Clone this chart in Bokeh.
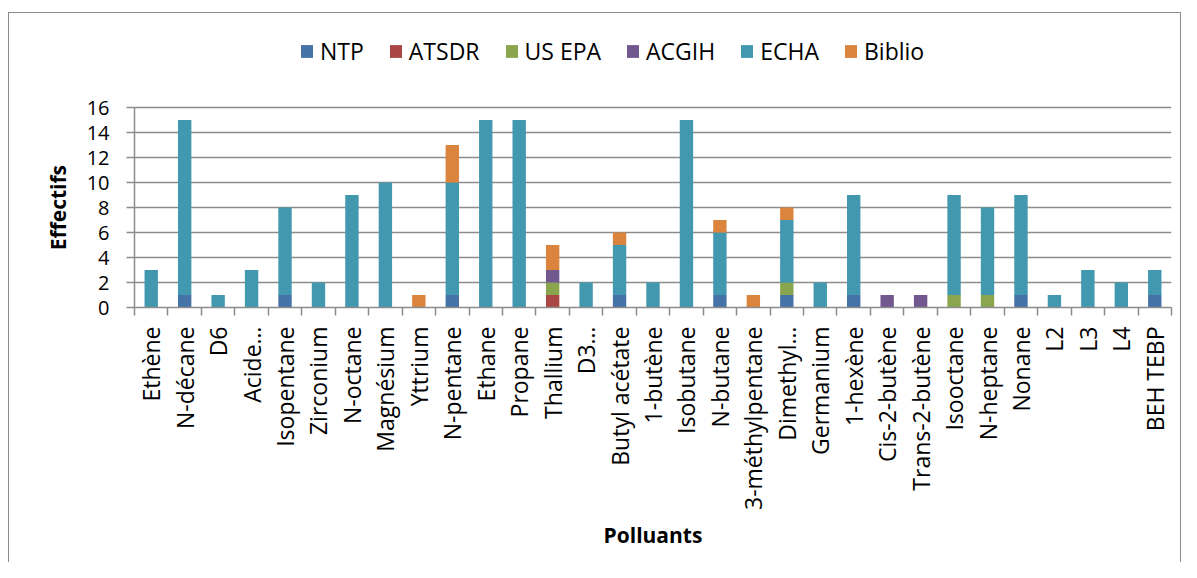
import math
from bokeh.plotting import figure
from bokeh.models import ColumnDataSource, Range1d, FixedTicker, Legend, LegendItem
from bokeh.embed import file_html
from bokeh.resources import INLINE

categories = ["Ethène", "N-décane", "D6", "Acide…", "Isopentane", "Zirconium", "N-octane",
              "Magnésium", "Yttrium", "N-pentane", "Ethane", "Propane", "Thallium", "D3…",
              "Butyl acétate", "1-butène", "Isobutane", "N-butane", "3-méthylpentane",
              "Dimethyl…", "Germanium", "1-hexène", "Cis-2-butène", "Trans-2-butène",
              "Isooctane", "N-heptane", "Nonane", "L2", "L3", "L4", "BEH TEBP"]
NTP    = [0, 1, 0, 0, 1, 0, 0, 0, 0, 1, 0, 0, 0, 0, 1, 0, 0, 1, 0, 1, 0, 1, 0, 0, 0, 0, 1, 0, 0, 0, 1]
ATSDR  = [0, 0, 0, 0, 0, 0, 0, 0, 0, 0, 0, 0, 1, 0, 0, 0, 0, 0, 0, 0, 0, 0, 0, 0, 0, 0, 0, 0, 0, 0, 0]
US_EPA = [0, 0, 0, 0, 0, 0, 0, 0, 0, 0, 0, 0, 1, 0, 0, 0, 0, 0, 0, 1, 0, 0, 0, 0, 1, 1, 0, 0, 0, 0, 0]
ACGIH  = [0, 0, 0, 0, 0, 0, 0, 0, 0, 0, 0, 0, 1, 0, 0, 0, 0, 0, 0, 0, 0, 0, 1, 1, 0, 0, 0, 0, 0, 0, 0]
ECHA   = [3, 14, 1, 3, 7, 2, 9, 10, 0, 9, 15, 15, 0, 2, 4, 2, 15, 5, 0, 5, 2, 8, 0, 0, 8, 7, 8, 1, 3, 2, 2]
Biblio = [0, 0, 0, 0, 0, 0, 0, 0, 1, 3, 0, 0, 2, 0, 1, 0, 0, 1, 1, 1, 0, 0, 0, 0, 0, 0, 0, 0, 0, 0, 0]

series_names = ["NTP", "ATSDR", "US EPA", "ACGIH", "ECHA", "Biblio"]
series_keys = ["NTP", "ATSDR", "US_EPA", "ACGIH", "ECHA", "Biblio"]
colors = ["#4572A7", "#AA4643", "#89A54E", "#71588F", "#4198AF", "#DB843D"]
y_ticks = [0, 2, 4, 6, 8, 10, 12, 14, 16]

n = len(categories)
xs = list(range(1, n + 1))
source = ColumnDataSource(dict(x=xs, NTP=NTP, ATSDR=ATSDR, US_EPA=US_EPA, ACGIH=ACGIH,
                               ECHA=ECHA, Biblio=Biblio))

FONT = "Open Sans"
GRID = "#8c8c8c"

# frame: top at 20px (room for legend), axis 0..16 occupies lower 200px
W, H = 1181, 562
TOP, BOTTOM_AXIS = 20, 307
y_end = 16 * (BOTTOM_AXIS - TOP) / 200.0

p = figure(width=W, height=H, output_backend="svg", toolbar_location=None,
           x_range=Range1d(0.5, n + 0.5), y_range=Range1d(0, y_end),
           min_border_left=134, min_border_right=10, min_border_top=TOP,
           min_border_bottom=H - BOTTOM_AXIS)
g = "linear-gradient(#8c8c8c,#8c8c8c)"
p.styles = {"background-color": "white",
            "background-image": f"{g}, {g}, {g}",
            "background-size": "1px 560px, 1173px 1px, 1px 560px",
            "background-position": "8px 12px, 8px 12px, 1180px 12px",
            "background-repeat": "no-repeat"}
p.outline_line_color = None
p.background_fill_color = "white"
p.border_fill_alpha = 0

renderers = p.vbar_stack(series_keys, x="x", width=0.4, source=source, color=colors,
                         line_color=None)

# X axis
xa = p.xaxis[0]
xa.ticker = FixedTicker(ticks=xs, minor_ticks=[i + 0.5 for i in range(0, n + 1)])
xa.major_label_overrides = {i + 1: c for i, c in enumerate(categories)}
xa.major_label_orientation = math.pi / 2
xa.major_tick_out = 0
xa.major_tick_in = 0
xa.minor_tick_out = 8
xa.minor_tick_in = 0
xa.minor_tick_line_color = GRID
xa.minor_tick_line_width = 1.5
xa.axis_line_color = GRID
xa.axis_line_width = 1.5
xa.major_label_text_font = FONT
xa.major_label_text_font_size = "23px"
xa.major_label_text_color = "black"
xa.major_label_standoff = 11
xa.axis_label = "Polluants"
xa.axis_label_text_font = FONT
xa.axis_label_text_font_size = "21px"
xa.axis_label_text_font_style = "bold"
xa.axis_label_text_color = "black"
xa.axis_label_standoff = 8

# Y axis
ya = p.yaxis[0]
ya.ticker = FixedTicker(ticks=y_ticks)
ya.bounds = (0, 16)
ya.major_tick_out = 8
ya.major_tick_in = 0
ya.minor_tick_out = 0
ya.minor_tick_in = 0
ya.major_tick_line_color = GRID
ya.major_tick_line_width = 1.5
ya.axis_line_color = GRID
ya.axis_line_width = 1.5
ya.major_label_text_font = FONT
ya.major_label_text_font_size = "20px"
ya.major_label_text_color = "black"
ya.major_label_standoff = 17
# trailing no-break spaces keep the title centred on the 0-16 part of the axis
ya.axis_label = "Effectifs" + "\u00a0" * 16
ya.axis_label_text_font = FONT
ya.axis_label_text_font_size = "21px"
ya.axis_label_text_font_style = "bold"
ya.axis_label_text_color = "black"
ya.axis_label_standoff = 12

p.xgrid.grid_line_color = None
p.ygrid.grid_line_color = GRID
p.ygrid.grid_line_width = 1.5

legend = Legend(items=[LegendItem(label=nm, renderers=[r]) for nm, r in zip(series_names, renderers)],
                orientation="horizontal", location=(165, 240),
                label_text_font=FONT, label_text_font_size="23px", label_text_color="black",
                glyph_width=15, glyph_height=16, label_standoff=6, spacing=24,
                padding=0, margin=0, border_line_color=None, background_fill_alpha=0)
p.add_layout(legend)

open("out.html", "w").write(file_html(p, INLINE))
